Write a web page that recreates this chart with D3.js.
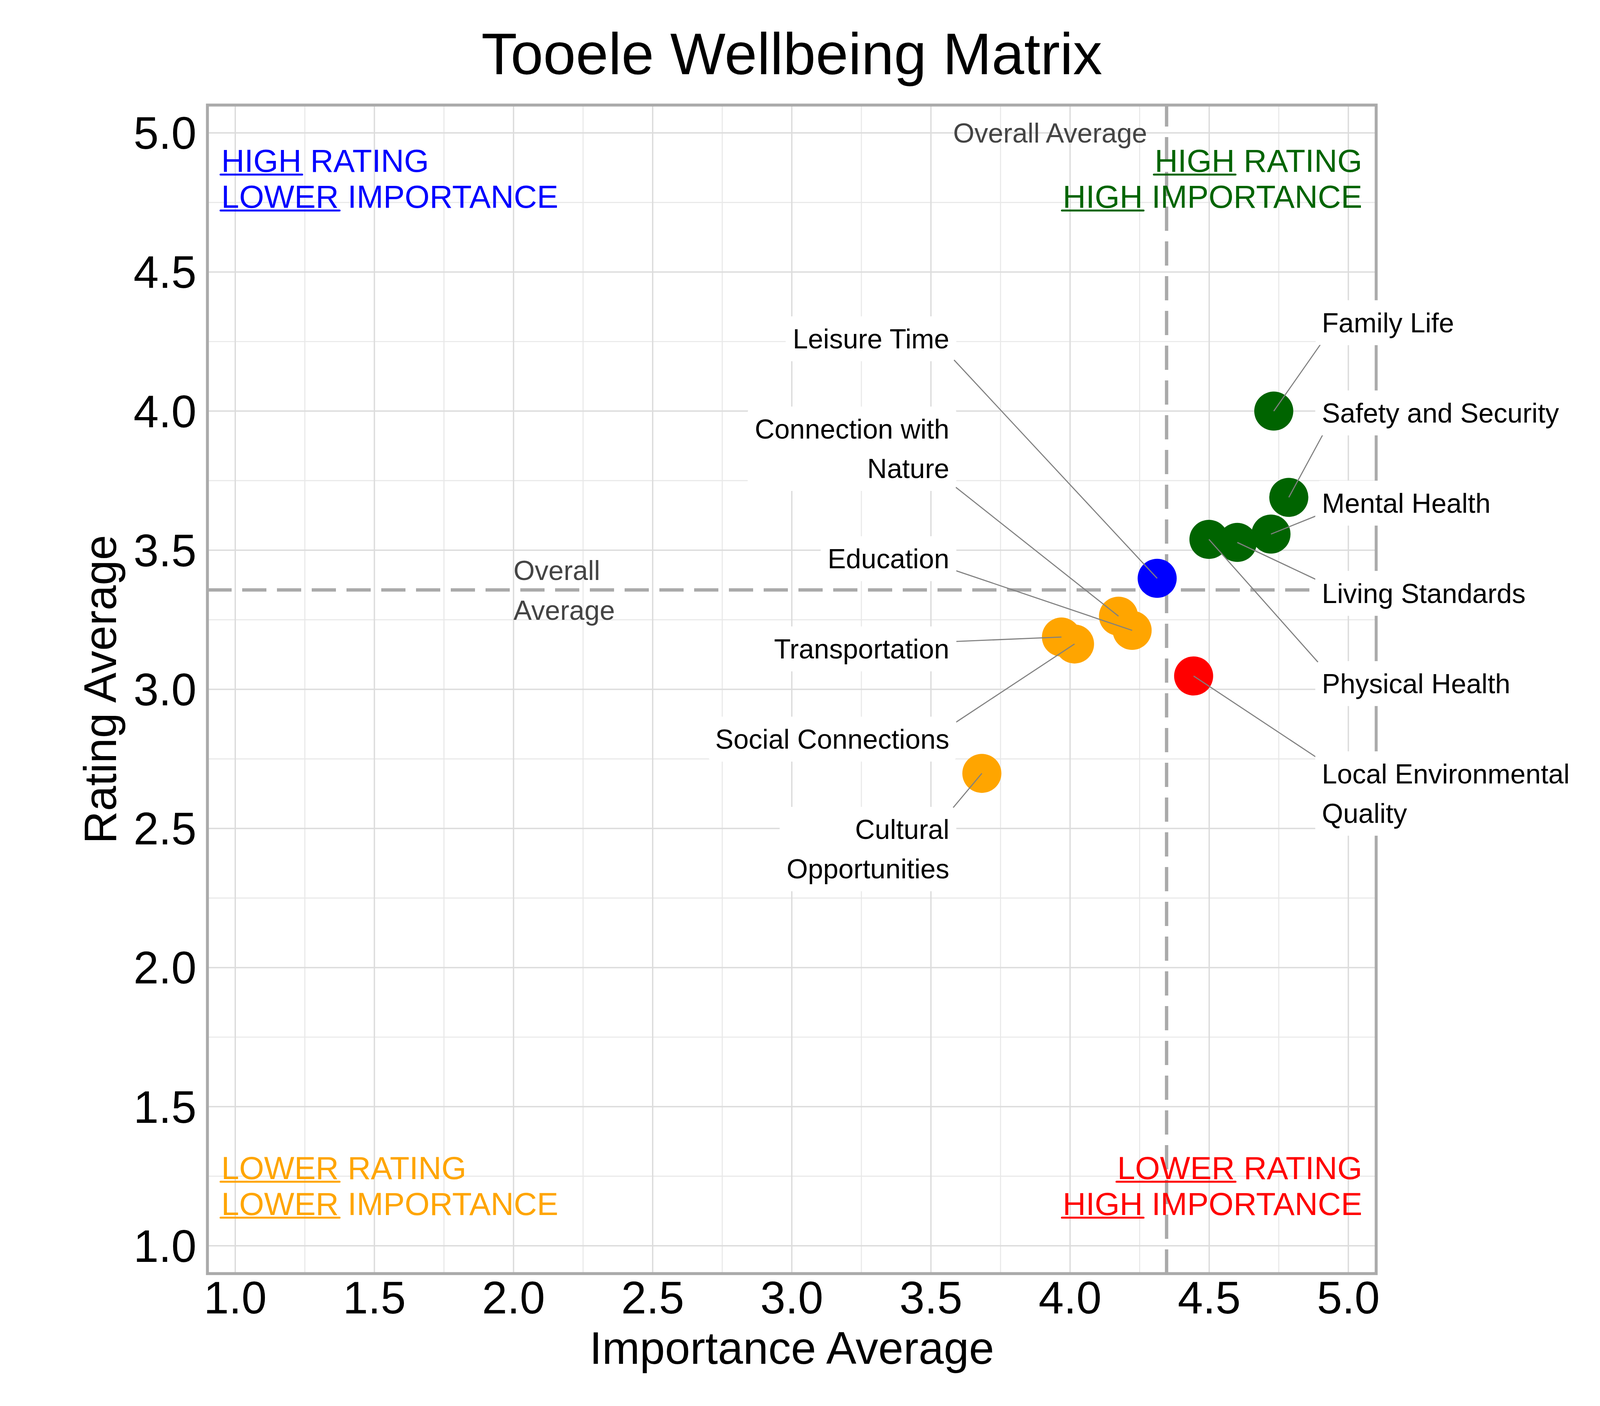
<!DOCTYPE html>
<html>
<head>
<script src="https://d3js.org/d3.v7.min.js"></script>
<style>
  body { margin: 0; background: #fff; }
  text { font-family: "Liberation Sans", Arial, sans-serif; }
</style>
</head>
<body>
<svg id="chart" width="4200" height="3600"></svg>
<script>
// wellbeing domains, in label stacking order
var names = ["Family Life", "Safety and Security", "Mental Health", "Living Standards",
  "Physical Health", "Local Environmental Quality", "Leisure Time", "Connection with Nature",
  "Education", "Transportation", "Social Connections", "Cultural Opportunities"];
var importance = [4.732, 4.786, 4.722, 4.601, 4.499, 4.444, 4.313, 4.174, 4.223, 3.969, 4.016, 3.683];
var rating = [4.000, 3.690, 3.558, 3.528, 3.539, 3.048, 3.399, 3.263, 3.212, 3.188, 3.163, 2.698];
var majorTicks = [1.0, 1.5, 2.0, 2.5, 3.0, 3.5, 4.0, 4.5, 5.0];
var minorTicks = [1.25, 1.75, 2.25, 2.75, 3.25, 3.75, 4.25, 4.75];
var quadrantText = [
  [["HIGH", " RATING"], ["LOWER", " IMPORTANCE"]],
  [["HIGH", " RATING"], ["HIGH", " IMPORTANCE"]],
  [["LOWER", " RATING"], ["LOWER", " IMPORTANCE"]],
  [["LOWER", " RATING"], ["HIGH", " IMPORTANCE"]]
];

var svg = d3.select("#chart");
svg.append("rect").attr("width", 4200).attr("height", 3600).attr("fill", "#fff");

var x = d3.scaleLinear().domain([0.9, 5.1]).range([531, 3523]);
var y = d3.scaleLinear().domain([0.9, 5.1]).range([3261, 269]);
var avgImp = d3.mean(importance), avgRat = d3.mean(rating);

function quadColor(i, r) {
  if (r >= avgRat) return i >= avgImp ? "#006400" : "#0000ff";
  return i >= avgImp ? "#ff0000" : "#ffa500";
}

// grid
var grid = svg.append("g");
minorTicks.forEach(function (t) {
  grid.append("line").attr("x1", x(t)).attr("x2", x(t)).attr("y1", y.range()[0]).attr("y2", y.range()[1])
    .attr("stroke", "#e8e8e8").attr("stroke-width", 2.7);
  grid.append("line").attr("y1", y(t)).attr("y2", y(t)).attr("x1", x.range()[0]).attr("x2", x.range()[1])
    .attr("stroke", "#e8e8e8").attr("stroke-width", 2.7);
});
majorTicks.forEach(function (t) {
  grid.append("line").attr("x1", x(t)).attr("x2", x(t)).attr("y1", y.range()[0]).attr("y2", y.range()[1])
    .attr("stroke", "#dcdcdc").attr("stroke-width", 3.5);
  grid.append("line").attr("y1", y(t)).attr("y2", y(t)).attr("x1", x.range()[0]).attr("x2", x.range()[1])
    .attr("stroke", "#dcdcdc").attr("stroke-width", 3.5);
});

// average lines
svg.append("line").attr("x1", x.range()[0]).attr("x2", x.range()[1]).attr("y1", y(avgRat)).attr("y2", y(avgRat))
  .attr("stroke", "#a9a9a9").attr("stroke-width", 8.5).attr("stroke-dasharray", "62 27");
svg.append("line").attr("x1", x(avgImp)).attr("x2", x(avgImp)).attr("y1", y.range()[0]).attr("y2", y.range()[1])
  .attr("stroke", "#a9a9a9").attr("stroke-width", 8.5).attr("stroke-dasharray", "62 27");

var topAvg = svg.append("text").text("Overall Average")
  .attr("y", y(5)).attr("dy", 25).attr("font-size", 70).attr("fill", "#444")
  .attr("text-anchor", "end");
topAvg.attr("x", x(avgImp) - 0.1 * topAvg.node().getComputedTextLength());
var sideAvg = svg.append("text").attr("font-size", 70).attr("fill", "#444");
["Overall", "Average"].forEach(function (w, k) {
  sideAvg.append("tspan").text(w).attr("x", x(2)).attr("y", y(avgRat) - 51 + k * 102 + 25);
});

// panel border
svg.append("rect").attr("x", x.range()[0]).attr("y", y.range()[1])
  .attr("width", x.range()[1] - x.range()[0]).attr("height", y.range()[0] - y.range()[1])
  .attr("fill", "none").attr("stroke", "#aaaaaa").attr("stroke-width", 7.5);

// axes text
svg.append("g").selectAll("text").data(majorTicks).join("text")
  .attr("x", 503).attr("y", function (d) { return y(d); }).attr("dy", 41)
  .attr("text-anchor", "end").attr("font-size", 116)
  .text(function (d) { return d3.format(".1f")(d); });
svg.append("g").selectAll("text").data(majorTicks).join("text")
  .attr("x", function (d) { return x(d); }).attr("y", 3363)
  .attr("text-anchor", "middle").attr("font-size", 116)
  .text(function (d) { return d3.format(".1f")(d); });
var midX = (x.range()[0] + x.range()[1]) / 2, midY = (y.range()[0] + y.range()[1]) / 2;
svg.append("text").text("Importance Average").attr("x", midX).attr("y", 3492)
  .attr("text-anchor", "middle").attr("font-size", 116);
svg.append("text").text("Rating Average").attr("transform", "translate(297," + midY + ") rotate(-90)")
  .attr("text-anchor", "middle").attr("font-size", 116);
svg.append("text").text("Tooele Wellbeing Matrix").attr("x", midX).attr("y", 190)
  .attr("text-anchor", "middle").attr("font-size", 150);

// points
var pts = names.map(function (n, i) {
  return { name: n, imp: importance[i], rat: rating[i], side: importance[i] < avgImp ? "left" : "right" };
});
svg.append("g").selectAll("circle").data(pts).join("circle")
  .attr("cx", function (d) { return x(d.imp); })
  .attr("cy", function (d) { return y(d.rat); })
  .attr("r", 50)
  .attr("fill", function (d) { return quadColor(d.imp, d.rat); });

// repelled labels: stacked per side
function wrap(s, width) {
  var out = [], cur = "";
  s.split(" ").forEach(function (w) {
    if (cur && (cur + " " + w).length > width) { out.push(cur); cur = w; }
    else cur = cur ? cur + " " + w : w;
  });
  out.push(cur);
  return out;
}
var lineH = 101, slot1 = 231, padX = 18, cornerR = 40;
var stackTop = { left: y(4.422), right: y(4.48) };
var anchorX = { left: x(3.566), right: x(4.905) };
var segG = svg.append("g"), boxG = svg.append("g"), txtG = svg.append("g");
["left", "right"].forEach(function (side) {
  var cursor = stackTop[side];
  pts.filter(function (d) { return d.side === side; }).forEach(function (d) {
    var lines = wrap(d.name, 20);
    var h = slot1 + (lines.length - 1) * lineH;
    var cy = cursor + h / 2;
    cursor += h;
    var t = txtG.append("text").attr("font-size", 70).attr("fill", "#000")
      .attr("text-anchor", side === "left" ? "end" : "start");
    var w = 0;
    lines.forEach(function (l, k) {
      var ts = t.append("tspan").text(l).attr("x", anchorX[side])
        .attr("y", cy - (lines.length - 1) * lineH / 2 + k * lineH + 25);
      w = Math.max(w, ts.node().getComputedTextLength());
    });
    var bh = lines.length * lineH + 14;
    var b = side === "left"
      ? { x0: anchorX.left - w - padX, x1: anchorX.left + padX }
      : { x0: anchorX.right - padX + 1, x1: anchorX.right + w + padX };
    b.y0 = cy - bh / 2; b.y1 = cy + bh / 2;
    boxG.append("rect").attr("x", b.x0).attr("y", b.y0).attr("width", b.x1 - b.x0).attr("height", bh)
      .attr("rx", 15).attr("fill", "#fff");
    // segment: from point to nearest point of rounded box
    var px = x(d.imp), py = y(d.rat);
    var qx = Math.max(b.x0 + cornerR, Math.min(b.x1 - cornerR, px));
    var qy = Math.max(b.y0 + cornerR, Math.min(b.y1 - cornerR, py));
    var dx = px - qx, dy = py - qy, len = Math.hypot(dx, dy) || 1;
    segG.append("line").attr("x1", px).attr("y1", py)
      .attr("x2", qx + cornerR * dx / len).attr("y2", qy + cornerR * dy / len)
      .attr("stroke", "#808080").attr("stroke-width", 2.8);
  });
});

// quadrant captions
var qPos = [
  { x: x(0.95), y: y(4.86), anchor: "start", color: "#0000ff" },
  { x: x(5.05), y: y(4.86), anchor: "end", color: "#006400" },
  { x: x(0.95), y: y(1.24), anchor: "start", color: "#ffa500" },
  { x: x(5.05), y: y(1.24), anchor: "end", color: "#ff0000" }
];
quadrantText.forEach(function (q, qi) {
  var p = qPos[qi];
  q.forEach(function (parts, k) {
    var by = p.y + k * 92;
    var t = svg.append("text").attr("x", p.x).attr("y", by).attr("font-size", 82)
      .attr("fill", p.color).attr("text-anchor", p.anchor);
    var first = t.append("tspan").text(parts[0]);
    t.append("tspan").text(parts[1]).style("white-space", "pre");
    var total = t.node().getComputedTextLength();
    var ww = first.node().getComputedTextLength();
    var sx = p.anchor === "start" ? p.x : p.x - total;
    svg.append("line").attr("x1", sx - 2).attr("x2", sx + ww + 2).attr("y1", by + 7).attr("y2", by + 7)
      .attr("stroke", p.color).attr("stroke-width", 5).attr("stroke-linecap", "round");
  });
});
</script>
</body>
</html>
